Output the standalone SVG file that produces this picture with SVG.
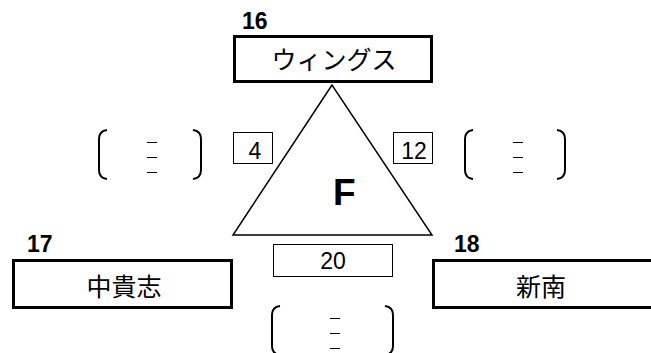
<svg xmlns="http://www.w3.org/2000/svg" width="651" height="353" viewBox="0 0 651 353">
<style>
.node{fill:#fff;stroke:#000;stroke-width:3}
.small{fill:#fff;stroke:#000;stroke-width:1}
.lbl{font-family:"Noto Sans CJK JP","Liberation Sans",sans-serif;font-size:25px;fill:#000;text-anchor:middle;dominant-baseline:central}
.num{font-family:"Liberation Sans",Arial,sans-serif;font-weight:bold;font-size:23px;fill:#000}
.val{font-family:"Liberation Sans",Arial,sans-serif;font-size:23px;fill:#000;text-anchor:middle}
.br{fill:none;stroke:#000;stroke-width:2}
.dash{stroke:#000;stroke-width:1}
</style>
<rect width="651" height="353" fill="#fff"/>
<g id="connectors">
<polygon points="332,85 233,235 432,235" fill="none" stroke="#000" stroke-width="1.5"/>
</g>
<g id="center">
<text x="333" y="205" font-family="Liberation Sans,Arial,sans-serif" font-weight="bold" font-size="37" fill="#000">F</text>
</g>
<g id="node16">
<text class="num" x="242" y="29">16</text>
<rect class="node" x="234.5" y="36.5" width="197" height="45"/>
<text class="lbl" x="334" y="58">ウィングス</text>
</g>
<g id="node17">
<text class="num" x="27" y="252">17</text>
<rect class="node" x="13.5" y="260.5" width="218" height="47"/>
<text class="lbl" x="124" y="285">中貴志</text>
</g>
<g id="node18">
<text class="num" x="454" y="252">18</text>
<rect class="node" x="433.5" y="260.5" width="222" height="47"/>
<text class="lbl" x="541" y="285">新南</text>
</g>
<g id="edge4">
<rect class="small" x="233.5" y="132.5" width="39" height="31"/>
<text class="val" x="255" y="159">4</text>
</g>
<g id="edge12">
<rect class="small" x="393.5" y="132.5" width="39" height="31"/>
<text class="val" x="414" y="159">12</text>
</g>
<g id="edge20">
<rect class="small" x="273.5" y="244.5" width="119" height="32"/>
<text class="val" x="333" y="269" font-size="25">20</text>
</g>
<g id="bracketLeft">
<path class="br" d="M107,130 Q99,131 99,139 L99,170 Q99,178 107,179"/>
<path class="br" d="M193,130 Q201,131 201,139 L201,170 Q201,178 193,179"/>
<line class="dash" x1="147" y1="142.5" x2="157" y2="142.5"/>
<line class="dash" x1="147" y1="157.5" x2="157" y2="157.5"/>
<line class="dash" x1="147" y1="172.5" x2="157" y2="172.5"/>
</g>
<g id="bracketRight">
<path class="br" d="M473,130 Q465,131 465,139 L465,170 Q465,178 473,179"/>
<path class="br" d="M557,130 Q565,131 565,139 L565,170 Q565,178 557,179"/>
<line class="dash" x1="513" y1="142.5" x2="523" y2="142.5"/>
<line class="dash" x1="513" y1="157.5" x2="523" y2="157.5"/>
<line class="dash" x1="513" y1="172.5" x2="523" y2="172.5"/>
</g>
<g id="bracketBottom">
<path class="br" d="M280,306 Q272,307 272,315 L272,346 Q272,354 280,355"/>
<path class="br" d="M385,306 Q393,307 393,315 L393,346 Q393,354 385,355"/>
<line class="dash" x1="330" y1="318.5" x2="340" y2="318.5"/>
<line class="dash" x1="330" y1="333.5" x2="340" y2="333.5"/>
<line class="dash" x1="330" y1="348.5" x2="340" y2="348.5"/>
</g>
</svg>
